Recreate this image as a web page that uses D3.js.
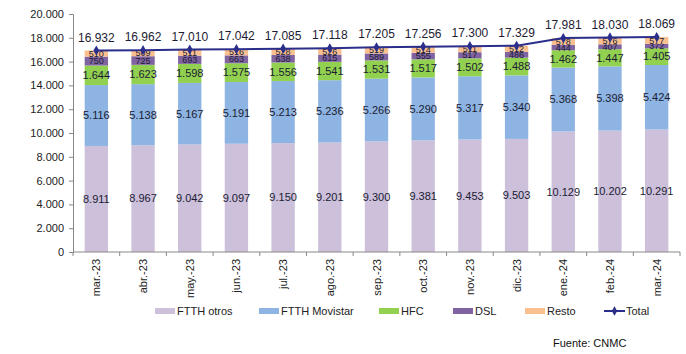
<!DOCTYPE html>
<html>
<head>
<meta charset="utf-8">
<script src="https://cdn.jsdelivr.net/npm/d3@7"></script>
<style>
  body { margin: 0; background: #fff; }
  text { font-family: "Liberation Sans", Arial, sans-serif; }
</style>
</head>
<body>
<div class="canvas"></div>
<script>
// data (miles de líneas)
const months = ['mar.-23','abr.-23','may.-23','jun.-23','jul.-23','ago.-23','sep.-23','oct.-23','nov.-23','dic.-23','ene.-24','feb.-24','mar.-24'];
const ftthOtros = [8911, 8967, 9042, 9097, 9150, 9201, 9300, 9381, 9453, 9503, 10129, 10202, 10291];
const ftthMovistar = [5116, 5138, 5167, 5191, 5213, 5236, 5266, 5290, 5317, 5340, 5368, 5398, 5424];
const hfc = [1644, 1623, 1598, 1575, 1556, 1541, 1531, 1517, 1502, 1488, 1462, 1447, 1405];
const dsl = [750, 725, 693, 663, 638, 615, 589, 555, 517, 486, 444, 407, 372];
const resto = [510, 509, 511, 516, 528, 526, 519, 514, 511, 512, 578, 576, 577];
const total = [16932, 16962, 17010, 17042, 17085, 17118, 17205, 17256, 17300, 17329, 17981, 18030, 18069];
const yTicks = [0, 2000, 4000, 6000, 8000, 10000, 12000, 14000, 16000, 18000, 20000];

const seriesNames = ['FTTH otros', 'FTTH Movistar', 'HFC', 'DSL', 'Resto'];
const seriesValues = [ftthOtros, ftthMovistar, hfc, dsl, resto];
const colors = ['#ccc0da', '#8db4e2', '#92d050', '#8064a2', '#fac090'];
const lineColor = '#2b2e8a';
const labelColor = '#1b1b33';

const width = 686, height = 354;
const svg = d3.select('.canvas').append('svg')
  .attr('width', width)
  .attr('height', height);

// Spanish number format: thousands separator is a dot
const locale = d3.formatLocale({decimal: ',', thousands: '.', grouping: [3], currency: ['', '€']});
const fmt = locale.format(',d');

const x = d3.scaleBand()
  .domain(months)
  .range([73, 680])
  .paddingInner(0.5)
  .paddingOuter(0.25);

const y = d3.scaleLinear()
  .domain([0, 20000])
  .range([252, 14]);

// stacked layout
const rows = months.map((m, i) => {
  const r = {month: m};
  seriesNames.forEach((s, j) => r[s] = seriesValues[j][i]);
  return r;
});
const stack = d3.stack().keys(seriesNames)(rows);

// bars
const layers = svg.append('g').selectAll('g')
  .data(stack)
  .enter().append('g')
    .attr('fill', (d, i) => colors[i]);

layers.selectAll('rect')
  .data(d => d)
  .enter().append('rect')
    .attr('x', d => x(d.data.month))
    .attr('width', x.bandwidth())
    .attr('y', d => y(d[1]))
    .attr('height', d => y(d[0]) - y(d[1]));

// segment labels (the thin DSL / Resto ones get a smaller font)
layers.each(function(layer, li) {
  d3.select(this).selectAll('text')
    .data(layer)
    .enter().append('text')
      .attr('x', d => x(d.data.month) + x.bandwidth() / 2)
      .attr('y', d => (y(d[0]) + y(d[1])) / 2)
      .attr('dy', '0.35em')
      .attr('text-anchor', 'middle')
      .attr('font-size', li >= 3 ? 9 : 11)
      .attr('fill', labelColor)
      .text(d => fmt(d[1] - d[0]));
});

// y axis
const yAxis = d3.axisLeft(y)
  .tickValues(yTicks)
  .tickSize(4)
  .tickPadding(5)
  .tickFormat(fmt);
const yAxisGroup = svg.append('g')
  .attr('transform', 'translate(73,0)')
  .call(yAxis);
yAxisGroup.select('.domain').attr('stroke', '#888');
yAxisGroup.selectAll('.tick line').attr('stroke', '#888');
yAxisGroup.selectAll('.tick text')
  .attr('font-size', 11)
  .attr('fill', '#222')
  .attr('font-family', '"Liberation Sans", Arial, sans-serif');

// x axis line and ticks between categories
const xAxisGroup = svg.append('g');
xAxisGroup.append('line')
  .attr('x1', 73).attr('x2', 680)
  .attr('y1', y(0)).attr('y2', y(0))
  .attr('stroke', '#888');
const bounds = d3.range(months.length + 1).map(i => 73 + i * x.step());
xAxisGroup.selectAll('.xt')
  .data(bounds)
  .enter().append('line')
    .attr('x1', d => d).attr('x2', d => d)
    .attr('y1', y(0)).attr('y2', y(0) + 4)
    .attr('stroke', '#888');
xAxisGroup.selectAll('text')
  .data(months)
  .enter().append('text')
    .attr('transform', d => `translate(${x(d) + x.bandwidth() / 2 + 4},${y(0) + 7}) rotate(-90)`)
    .attr('text-anchor', 'end')
    .attr('font-size', 11)
    .attr('fill', '#222')
    .text(d => d);

// total line
const line = d3.line()
  .x((d, i) => x(months[i]) + x.bandwidth() / 2)
  .y(d => y(d));
svg.append('path')
  .datum(total)
  .attr('d', line)
  .attr('fill', 'none')
  .attr('stroke', lineColor)
  .attr('stroke-width', 2);

svg.append('g').selectAll('path')
  .data(total)
  .enter().append('path')
    .attr('d', d3.symbol().type(d3.symbolDiamond).size(30))
    .attr('transform', (d, i) => `translate(${x(months[i]) + x.bandwidth() / 2},${y(d)})`)
    .attr('fill', lineColor);

svg.append('g').selectAll('text')
  .data(total)
  .enter().append('text')
    .attr('x', (d, i) => x(months[i]) + x.bandwidth() / 2)
    .attr('y', d => y(d) - 13)
    .attr('dy', '0.35em')
    .attr('text-anchor', 'middle')
    .attr('font-size', 12)
    .attr('fill', labelColor)
    .text(d => fmt(d));

// legend
const legendItems = [
  {name: 'FTTH otros', color: colors[0], x: 155},
  {name: 'FTTH Movistar', color: colors[1], x: 259},
  {name: 'HFC', color: colors[2], x: 379},
  {name: 'DSL', color: colors[3], x: 453},
  {name: 'Resto', color: colors[4], x: 525},
  {name: 'Total', color: lineColor, x: 604, line: true}
];
const legend = svg.append('g').attr('transform', 'translate(0,311)');
const items = legend.selectAll('g')
  .data(legendItems)
  .enter().append('g')
    .attr('transform', d => `translate(${d.x},0)`);
items.filter(d => !d.line).append('rect')
  .attr('x', 0).attr('y', -3)
  .attr('width', 20).attr('height', 6)
  .attr('fill', d => d.color);
const lineItem = items.filter(d => d.line);
lineItem.append('line')
  .attr('x1', 0).attr('x2', 21)
  .attr('y1', 0).attr('y2', 0)
  .attr('stroke', lineColor).attr('stroke-width', 2);
lineItem.append('path')
  .attr('d', d3.symbol().type(d3.symbolDiamond).size(25))
  .attr('transform', 'translate(10.5,0)')
  .attr('fill', lineColor);
items.append('text')
  .attr('x', 22)
  .attr('dy', '0.35em')
  .attr('font-size', 11)
  .attr('fill', '#222')
  .text(d => d.name);

// source note
svg.append('text')
  .attr('x', 553)
  .attr('y', 347)
  .attr('font-size', 11)
  .attr('fill', '#111')
  .text('Fuente: CNMC');
</script>
</body>
</html>
